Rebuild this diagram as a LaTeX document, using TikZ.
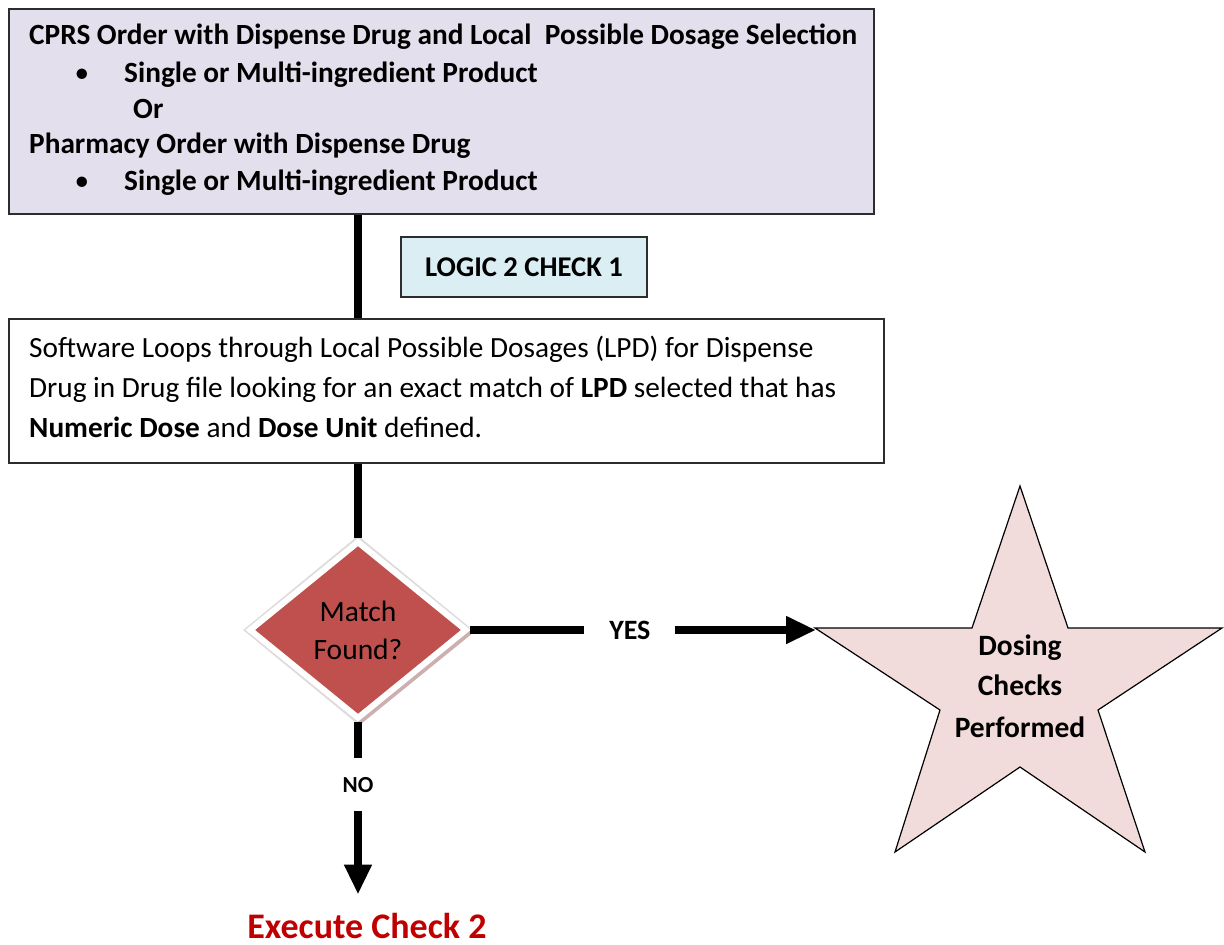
\documentclass[tikz,border=0pt]{standalone}
\usepackage{fontspec}
\setmainfont{Carlito}
\usetikzlibrary{arrows.meta,shapes.geometric}

\definecolor{ordersfill}{RGB}{228,223,236}
\definecolor{logicfill}{RGB}{219,238,243}
\definecolor{starfill}{RGB}{242,220,219}
\definecolor{matchred}{RGB}{192,80,77}
\definecolor{matchshadow}{RGB}{205,175,175}
\definecolor{matchhalo}{RGB}{225,220,220}
\definecolor{execred}{RGB}{192,0,0}
\definecolor{framegray}{RGB}{45,45,45}

\newcommand\bodyfont{\fontsize{29.3}{34}\selectfont}

\begin{document}
\begin{tikzpicture}[x=1pt,y=-1pt,
  panel/.style={draw=framegray,line width=1.8pt,inner sep=0pt},
  textline/.style={anchor=base west,inner sep=0pt,font=\bodyfont},
  starline/.style={anchor=base,inner sep=0pt,font=\fontsize{29.5}{32}\selectfont\bfseries},
  flow/.style={line width=8pt},
  tipped/.style={-{Triangle[length=30pt,width=26pt]}},
  gaplabel/.style={fill=white,inner sep=0pt}
]
\useasboundingbox (0,0) rectangle (1224,945);

% order entry panel
\node[panel,fill=ordersfill,anchor=north west,minimum width=865pt,minimum height=205pt] (orders) at (8,8) {};
\node[textline,font=\bodyfont\bfseries] (cprs) at (29,44) {CPRS Order with Dispense Drug and Local\ \ Possible Dosage Selection};
\node[anchor=base,inner sep=0pt,font=\bodyfont] (bulletA) at (82,82) {•};
\node[textline,font=\bodyfont\bfseries] (productA) at (124,82) {Single or Multi-ingredient Product};
\node[textline,font=\bodyfont\bfseries] (orword) at (133,118) {Or};
\node[textline,font=\bodyfont\bfseries] (pharm) at (29,153) {Pharmacy Order with Dispense Drug};
\node[anchor=base,inner sep=0pt,font=\bodyfont] (bulletB) at (82,190) {•};
\node[textline,font=\bodyfont\bfseries] (productB) at (124,190) {Single or Multi-ingredient Product};

% logic label
\node[panel,fill=logicfill,minimum width=246pt,minimum height=60pt,font=\fontsize{28.6}{32}\selectfont\bfseries] (logic) at (524,267) {LOGIC 2 CHECK 1};

% loop description panel
\node[panel,fill=white,anchor=north west,minimum width=875pt,minimum height=144pt] (loops) at (8,318) {};
\node[textline] (loopA) at (29,357) {Software Loops through Local Possible Dosages (LPD) for Dispense};
\node[textline] (loopB) at (29,397) {Drug in Drug file looking for an exact match of \textbf{LPD} selected that has};
\node[textline] (loopC) at (29,437) {\textbf{Numeric Dose} and \textbf{Dose Unit} defined.};

% decision with its soft shadow and faint halo
\node[diamond,fill=matchhalo,minimum width=230pt,minimum height=189pt,inner sep=0pt] (matchhaloshape) at (358,630) {};
\node[diamond,fill=matchshadow,minimum width=224pt,minimum height=182pt,inner sep=0pt] (matchshade) at (361,633) {};
\node[diamond,fill=matchred,draw=white,line width=6pt,minimum width=218pt,minimum height=178pt,inner sep=0pt,
      align=center,font=\fontsize{29.5}{38}\selectfont] (match) at (358,630) {Match\\Found?};

% result star
\draw[fill=starfill,draw=black,line width=1.2pt]
  (1020,486) -- (1068,628) -- (1222,628) -- (1098,710) -- (1145,852) -- (1020,767)
  -- (895,852) -- (940,710) -- (815,628) -- (972,628) -- cycle;
\coordinate (starL) at (816,630);
\node[starline] (dosA) at (1020,655) {Dosing};
\node[starline] (dosB) at (1020,695) {Checks};
\node[starline] (dosC) at (1020,737) {Performed};

% next step
\node[anchor=base,inner sep=0pt,font=\fontsize{36}{38}\selectfont\bfseries,text=execred] (exec) at (367,938) {Execute Check 2};

% connectors
\draw[flow] (orders.south -| match.north) -- (loops.north -| match.north);
\draw[flow] (loops.south -| match.north) -- (match.north);
\draw[flow,tipped] (match.east) -- node[gaplabel,pos=0.462,minimum width=91pt,minimum height=12pt,font=\fontsize{28}{30}\selectfont\bfseries] {YES} (starL);
\draw[flow,tipped,shorten >=18pt] (match.south) -- node[gaplabel,pos=0.33,minimum height=53pt,minimum width=12pt,font=\fontsize{23}{26}\selectfont\bfseries] {NO} (match.south |- exec.north);
\end{tikzpicture}
\end{document}
